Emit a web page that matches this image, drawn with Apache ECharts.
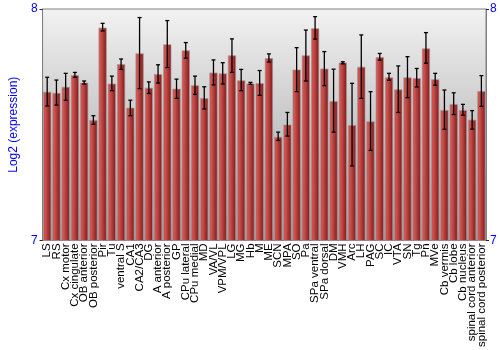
<!DOCTYPE html>
<html><head><meta charset="utf-8">
<script src="https://cdn.jsdelivr.net/npm/echarts@6/dist/echarts.min.js"></script>
<style>html,body{margin:0;padding:0;background:#fff}#c{width:500px;height:350px}</style>
</head><body><div id="c"></div>
<script>
const categories = ["LS","RS","Cx motor","Cx cingulate","OB anterior","OB posterior","Pir","Tu","ventral S","CA1","CA2/CA3","DG","A anterior","A posterior","GP","CPu lateral","CPu medial","MD","VA/VL","VPM/VPL","LG","MG","Hb","M","ME","SCN","MPA","SO","Pa","SPa ventral","SPa dorsal","DM","VMH","Arc","LH","PAG","SC","IC","VTA","SN","Tg","Pn","MVe","Cb vermis","Cb lobe","Cb nucleus","spinal cord anterior","spinal cord posterior"];
const means = [7.643,7.638,7.664,7.715,7.682,7.520,7.920,7.678,7.762,7.574,7.809,7.660,7.719,7.848,7.656,7.822,7.671,7.615,7.726,7.722,7.800,7.692,7.678,7.680,7.788,7.448,7.501,7.739,7.800,7.917,7.743,7.602,7.769,7.499,7.751,7.515,7.793,7.705,7.653,7.705,7.702,7.830,7.697,7.564,7.590,7.564,7.522,7.646];
const errHigh = [7.705,7.693,7.722,7.726,7.689,7.539,7.938,7.710,7.784,7.606,7.963,7.685,7.759,7.950,7.697,7.855,7.710,7.664,7.780,7.768,7.871,7.739,7.683,7.734,7.806,7.468,7.553,7.833,7.909,7.967,7.816,7.740,7.772,7.679,7.888,7.643,7.808,7.722,7.754,7.794,7.743,7.898,7.722,7.650,7.638,7.588,7.561,7.712];
const errLow = [7.581,7.585,7.606,7.705,7.676,7.502,7.905,7.647,7.739,7.539,7.656,7.635,7.680,7.747,7.614,7.788,7.631,7.568,7.672,7.676,7.726,7.647,7.675,7.627,7.771,7.432,7.451,7.643,7.689,7.870,7.669,7.468,7.763,7.322,7.614,7.389,7.779,7.692,7.553,7.617,7.663,7.766,7.671,7.480,7.544,7.541,7.481,7.580];
const yTicks = [7, 8];

const chart = echarts.init(document.getElementById('c'), null, {renderer:'canvas'});
const errData = categories.map((c,i)=>[i, errLow[i], errHigh[i]]);
const font = 'Liberation Sans, Arial, sans-serif';
chart.setOption({
  animation:false,
  grid:{left:27,right:14,top:9,bottom:100,show:true,
    backgroundColor:new echarts.graphic.LinearGradient(0,0,0,1,[{offset:0,color:'#f2f2f2'},{offset:1,color:'#9c9c9c'}]),
    borderColor:'#808080',borderWidth:1},
  xAxis:{type:'category',data:categories,
    axisLine:{show:false},axisTick:{show:false},
    axisLabel:{rotate:90,interval:0,fontSize:11.5,color:'#000',fontFamily:font,margin:3}},
  yAxis:[
    {type:'value',min:yTicks[0],max:yTicks[1],interval:1,
     name:'Log2 (expression)',nameLocation:'middle',nameGap:16,
     nameTextStyle:{color:'#0000ff',fontSize:12,fontFamily:font},
     axisLine:{show:true,lineStyle:{color:'#808080'}},
     axisTick:{show:true,length:3,lineStyle:{color:'#222'}},
     splitLine:{show:false},
     axisLabel:{color:'#0000ff',fontSize:12,margin:5,fontFamily:font}},
    {type:'value',min:yTicks[0],max:yTicks[1],interval:1,position:'right',
     axisLine:{show:true,lineStyle:{color:'#808080'}},
     axisTick:{show:true,length:3,lineStyle:{color:'#222'}},
     splitLine:{show:false},
     axisLabel:{color:'#0000ff',fontSize:12,margin:4,fontFamily:font}}
  ],
  series:[
    {type:'bar',data:means,barCategoryGap:'9%',
     itemStyle:{color:new echarts.graphic.LinearGradient(0,0,1,0,[{offset:0,color:'#c44643'},{offset:0.25,color:'#d05350'},{offset:1,color:'#7a1717'}]),
       borderColor:'rgba(170,150,150,0.7)',borderWidth:1}},
    {type:'custom',data:errData,z:10,
     renderItem:function(params,api){
       const x=api.value(0);
       const lo=api.coord([x,api.value(1)]);
       const hi=api.coord([x,api.value(2)]);
       const cx=lo[0], w=2;
       const st={stroke:'#000',lineWidth:1.3};
       return {type:'group',children:[
         {type:'line',shape:{x1:cx,y1:lo[1],x2:cx,y2:hi[1]},style:st},
         {type:'line',shape:{x1:cx-w,y1:lo[1],x2:cx+w,y2:lo[1]},style:st},
         {type:'line',shape:{x1:cx-w,y1:hi[1],x2:cx+w,y2:hi[1]},style:st}
       ]};
     }}
  ]
});
</script></body></html>
